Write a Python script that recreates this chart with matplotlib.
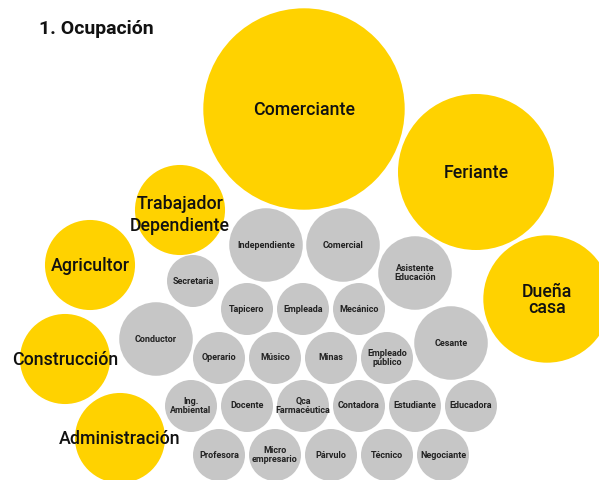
import numpy as np
import matplotlib.pyplot as plt
from matplotlib.patches import Circle

plt.rcParams['font.family'] = ['Roboto', 'DejaVu Sans']

# Occupations (count of people) - main ones in yellow, the rest in grey
main_labels = ['Comerciante', 'Feriante', 'Dueña\ncasa', 'Trabajador\nDependiente',
               'Agricultor', 'Construcción', 'Administración']
main_values = [15, 9, 6, 3, 3, 3, 3]

other_labels = ['Independiente', 'Comercial', 'Asistente\nEducación', 'Secretaria',
                'Tapicero', 'Empleada', 'Mecánico', 'Conductor', 'Cesante',
                'Operario', 'Músico', 'Minas', 'Empleado\npúblico',
                'Ing.\nAmbiental', 'Docente', 'Qca\nFarmacéutica', 'Contadora',
                'Estudiante', 'Educadora',
                'Profesora', 'Micro\nempresario', 'Párvulo', 'Técnico', 'Negociante']
other_values = [2, 2, 2, 1, 1, 1, 1, 2, 2, 1, 1, 1, 1, 1, 1, 1, 1, 1, 1, 1, 1, 1, 1, 1]

# packed layout (bubble centres, canvas units)
main_x = [304, 476, 547, 180, 90, 65, 120]
main_y = [109, 172, 299, 210, 265, 359, 438]
other_x = [266, 343, 415, 193, 247, 303, 359, 156, 451,
           219, 275, 331, 387, 191, 247, 303, 359, 415, 471,
           219, 275, 331, 387, 443]
other_y = [245, 245, 273, 281, 309, 309, 309, 339, 343,
           358, 358, 358, 358, 406, 406, 406, 406, 406, 406,
           455, 455, 455, 455, 455]

YELLOW = '#FFD200'
GREY = '#C6C6C6'
unit_r = 26  # radius of a bubble with value 1

fig = plt.figure(figsize=(5.99, 4.8), dpi=100)
ax = fig.add_axes([0, 0, 1, 1])
ax.set_xlim(0, 599)
ax.set_ylim(480, 0)
ax.set_aspect('equal')
ax.axis('off')

for lab, v, x, y in zip(other_labels, other_values, other_x, other_y):
    ax.add_patch(Circle((x, y), unit_r * np.sqrt(v), color=GREY, lw=0))
    ax.text(x, y, lab, ha='center', va='center', fontsize=6.5,
            fontweight='bold', color='#222222', linespacing=1.1)

for lab, v, x, y in zip(main_labels, main_values, main_x, main_y):
    ax.add_patch(Circle((x, y), unit_r * np.sqrt(v), color=YELLOW, lw=0))

# main labels drawn last so long ones sit over neighbouring bubbles
spacing = {'Dueña\ncasa': 0.8, 'Trabajador\nDependiente': 1.25}
for lab, x, y in zip(main_labels, main_x, main_y):
    ty = y + 5 if lab.startswith('Trabajador') else y + 1
    ax.text(x, ty, lab, ha='center', va='center', fontsize=12.8,
            fontweight='medium', color='#111111',
            linespacing=spacing.get(lab, 1.0))

ax.text(39, 29, '1. Ocupación', ha='left', va='center', fontsize=14,
        fontweight='bold', color='#111111')

fig.savefig('out.png', dpi=100)
